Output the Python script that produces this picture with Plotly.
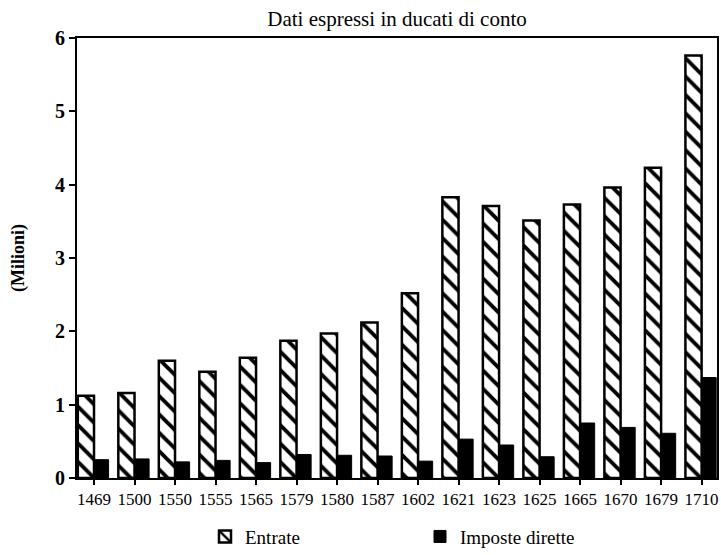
import plotly.graph_objects as go

# Dati (milioni di ducati di conto)
anni = ["1469", "1500", "1550", "1555", "1565", "1579", "1580", "1587",
        "1602", "1621", "1623", "1625", "1665", "1670", "1679", "1710"]
entrate = [1.12, 1.16, 1.60, 1.45, 1.64, 1.87, 1.97, 2.12,
           2.52, 3.83, 3.71, 3.51, 3.73, 3.96, 4.23, 5.76]
imposte_dirette = [0.25, 0.26, 0.22, 0.24, 0.21, 0.32, 0.31, 0.30,
                   0.23, 0.53, 0.45, 0.29, 0.75, 0.69, 0.61, 1.37]
y_ticks = [0, 1, 2, 3, 4, 5, 6]

FONT = "Liberation Serif"
x_pos = list(range(len(anni)))

fig = go.Figure()

# Entrate: barre tratteggiate
fig.add_trace(go.Bar(
    x=x_pos,
    y=entrate,
    name="Entrate",
    width=0.40,
    offset=-0.40,
    marker=dict(
        color="white",
        line=dict(color="black", width=2.5),
        pattern=dict(shape="\\", fgcolor="black", bgcolor="white",
                     size=13, solidity=0.3, fgopacity=1),
    ),
))

# Imposte dirette: barre piene
fig.add_trace(go.Bar(
    x=x_pos,
    y=imposte_dirette,
    name="Imposte dirette",
    width=0.36,
    offset=0.0,
    marker=dict(color="black", line=dict(color="black", width=1)),
))

fig.update_layout(
    width=721,
    height=555,
    margin=dict(l=77, r=4, t=38, b=77, autoexpand=False),
    paper_bgcolor="white",
    plot_bgcolor="white",
    font=dict(family=FONT, color="black"),
    barmode="overlay",
    title=dict(
        text="Dati espressi in ducati di conto",
        x=0.5, xref="paper", xanchor="center",
        y=0.967, yanchor="middle",
        font=dict(size=21, family=FONT, color="black"),
    ),
    showlegend=True,
    legend=dict(
        orientation="h",
        x=0.2, xanchor="left",
        y=-0.09, yanchor="top",
        font=dict(size=19, family=FONT),
        entrywidth=170,
        traceorder="normal",
    ),
)

fig.update_xaxes(
    range=[-0.42, len(anni) - 1 + 0.38],
    automargin=False,
    tickmode="array",
    tickvals=x_pos,
    ticktext=anni,
    ticks="outside",
    ticklen=5,
    tickwidth=1.5,
    tickcolor="black",
    tickfont=dict(size=17, family=FONT),
    showline=True,
    linecolor="black",
    linewidth=2,
    mirror=True,
    showgrid=False,
    zeroline=False,
)

fig.update_yaxes(
    range=[0, 6],
    automargin=False,
    tickmode="array",
    tickvals=y_ticks,
    ticks="outside",
    ticklen=6,
    tickwidth=1.5,
    tickcolor="black",
    tickfont=dict(size=20, family=FONT, weight="bold"),
    title=dict(text="<b>(Milioni)</b>", font=dict(size=18, family=FONT), standoff=26),
    showline=True,
    linecolor="black",
    linewidth=2,
    mirror=True,
    showgrid=False,
    zeroline=False,
)

# senza margine della pagina la figura occupa esattamente la finestra
fig.write_html(
    "out.html",
    config={"displayModeBar": False},
    post_script="document.body.style.margin='0';",
)
